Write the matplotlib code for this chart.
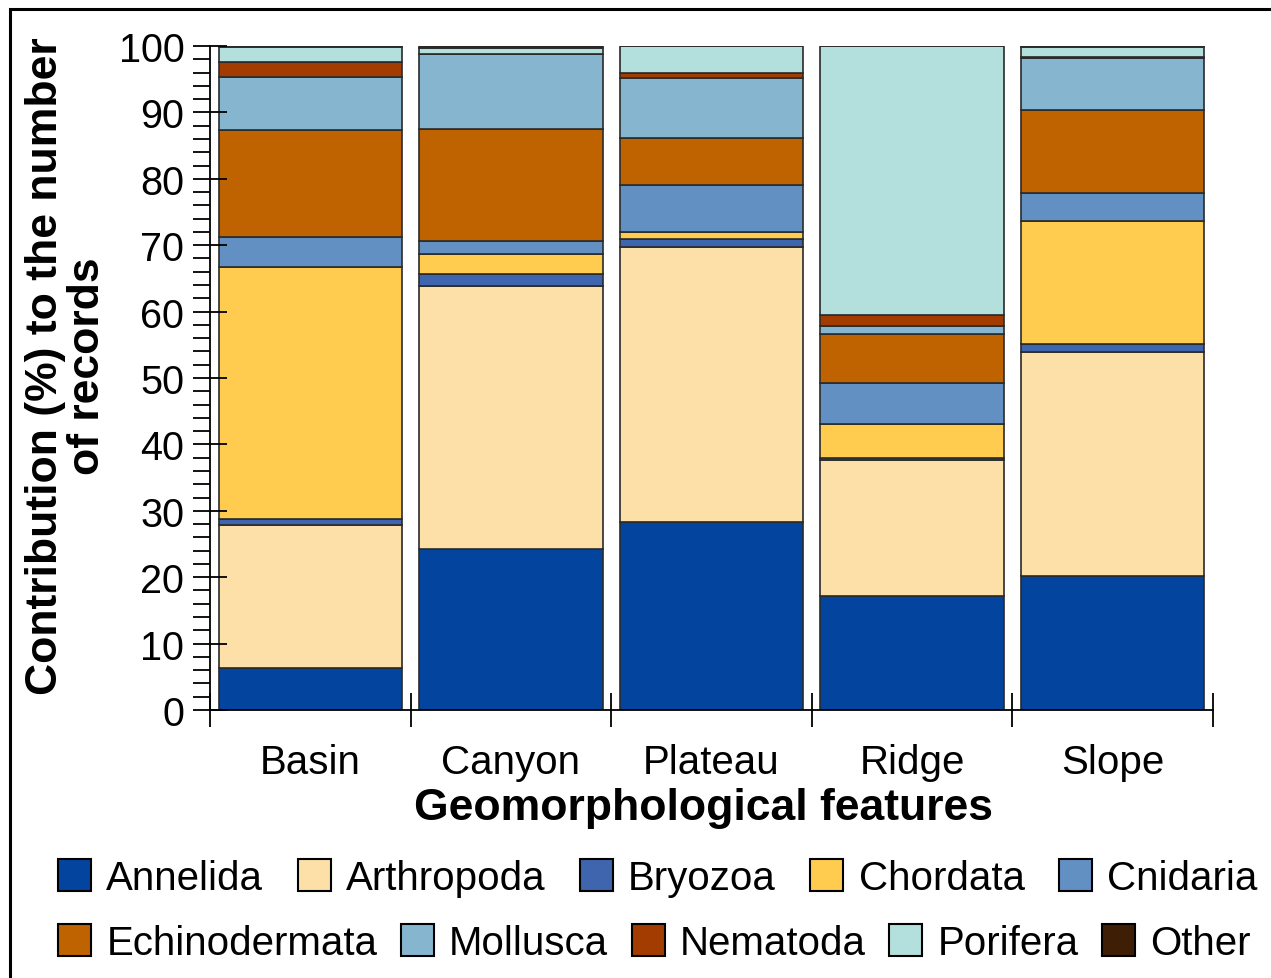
import matplotlib
matplotlib.use("Agg")
import matplotlib.pyplot as plt
from matplotlib.patches import Patch, Rectangle
from matplotlib.ticker import MultipleLocator
import numpy as np

plt.rcParams['font.family'] = ['Liberation Sans', 'DejaVu Sans']

features = ["Basin", "Canyon", "Plateau", "Ridge", "Slope"]
phyla = ["Annelida", "Arthropoda", "Bryozoa", "Chordata", "Cnidaria",
         "Echinodermata", "Mollusca", "Nematoda", "Porifera", "Other"]

annelida      = [6.3, 24.2, 28.3, 17.2, 20.2]
arthropoda    = [21.6, 39.7, 41.5, 20.5, 33.7]
bryozoa       = [0.9, 1.8, 1.1, 0.3, 1.2]
chordata      = [37.9, 2.9, 1.1, 5.0, 18.6]
cnidaria      = [4.5, 2.0, 7.1, 6.3, 4.2]
echinodermata = [16.2, 16.9, 7.0, 7.3, 12.5]
mollusca      = [8.0, 11.3, 9.1, 1.2, 7.8]
nematoda      = [2.2, 0.0, 0.7, 1.7, 0.1]
porifera      = [2.3, 0.9, 4.1, 40.5, 1.5]
other         = [0.1, 0.3, 0.0, 0.0, 0.2]

series = [annelida, arthropoda, bryozoa, chordata, cnidaria,
          echinodermata, mollusca, nematoda, porifera, other]
colors = ["#03449e", "#fddfa8", "#3e65ad", "#ffcc50", "#6390c3",
          "#be6300", "#86b6cf", "#a33c00", "#b3e0dc", "#3e1f06"]

W, H = 1271, 979
fig = plt.figure(figsize=(W / 100, H / 100), dpi=100)
ax = fig.add_axes([210 / W, 1 - 711 / H, (1213 - 210) / W, (711 - 47) / H])

x = np.arange(len(features))
bottom = np.zeros(len(features))
for vals, col in zip(series, colors):
    v = np.array(vals)
    ax.bar(x, v, bottom=bottom, width=0.915, color=col,
           edgecolor="#2a2a2a", linewidth=1.2)
    bottom += v

ax.set_xlim(-0.5, len(features) - 0.5)
ax.set_ylim(0, 100)
for s in ["top", "right"]:
    ax.spines[s].set_visible(False)
for s in ["left", "bottom"]:
    ax.spines[s].set_linewidth(1.3)

ax.yaxis.set_major_locator(MultipleLocator(10))
ax.yaxis.set_minor_locator(MultipleLocator(2))
ax.tick_params(axis="y", which="major", direction="inout", length=24, width=1.3,
               labelsize=28.5, pad=6.5)
ax.tick_params(axis="y", which="minor", direction="out", length=12, width=1.3)

ax.set_xticks(np.arange(-0.5, len(features), 1.0))
ax.set_xticks(x, minor=True)
ax.set_xticklabels([])
ax.set_xticklabels(features, minor=True)
ax.tick_params(axis="x", which="major", direction="inout", length=24, width=1.3)
ax.tick_params(axis="x", which="minor", length=0, labelsize=29, pad=24)

ax.set_xlabel("Geomorphological features", fontsize=32, fontweight="bold",
              labelpad=4)
ax.xaxis.set_label_coords((703 - 210) / 1003, (711 - 788) / 664)
ax.xaxis.label.set_va("top")
ax.set_ylabel("Contribution (%) to the number\nof records", fontsize=32,
              fontweight="bold", linespacing=1.02)
ax.yaxis.set_label_coords((108 - 210) / 1003, (711 - 366) / 664)

handles = [Patch(facecolor=c, edgecolor="black", linewidth=1.5) for c in colors]
kw = dict(frameon=False, fontsize=29, handlelength=0.82, handleheight=0.82,
          handletextpad=0.38, borderpad=0, borderaxespad=0,
          loc="center left", ncol=5)
leg1 = fig.legend(handles[:5], phyla[:5], bbox_to_anchor=(58 / W, 1 - 879 / H),
                  columnspacing=0.85, **kw)
leg2 = fig.legend(handles[5:], phyla[5:], bbox_to_anchor=(58 / W, 1 - 944 / H),
                  columnspacing=0.58, **kw)

fig.patches.append(Rectangle((10 / W, -0.05), 1.1, 1 - 10 / H + 0.05,
                             transform=fig.transFigure, fill=False,
                             edgecolor="black", linewidth=2.2))

fig.savefig("out.png", dpi=100)
